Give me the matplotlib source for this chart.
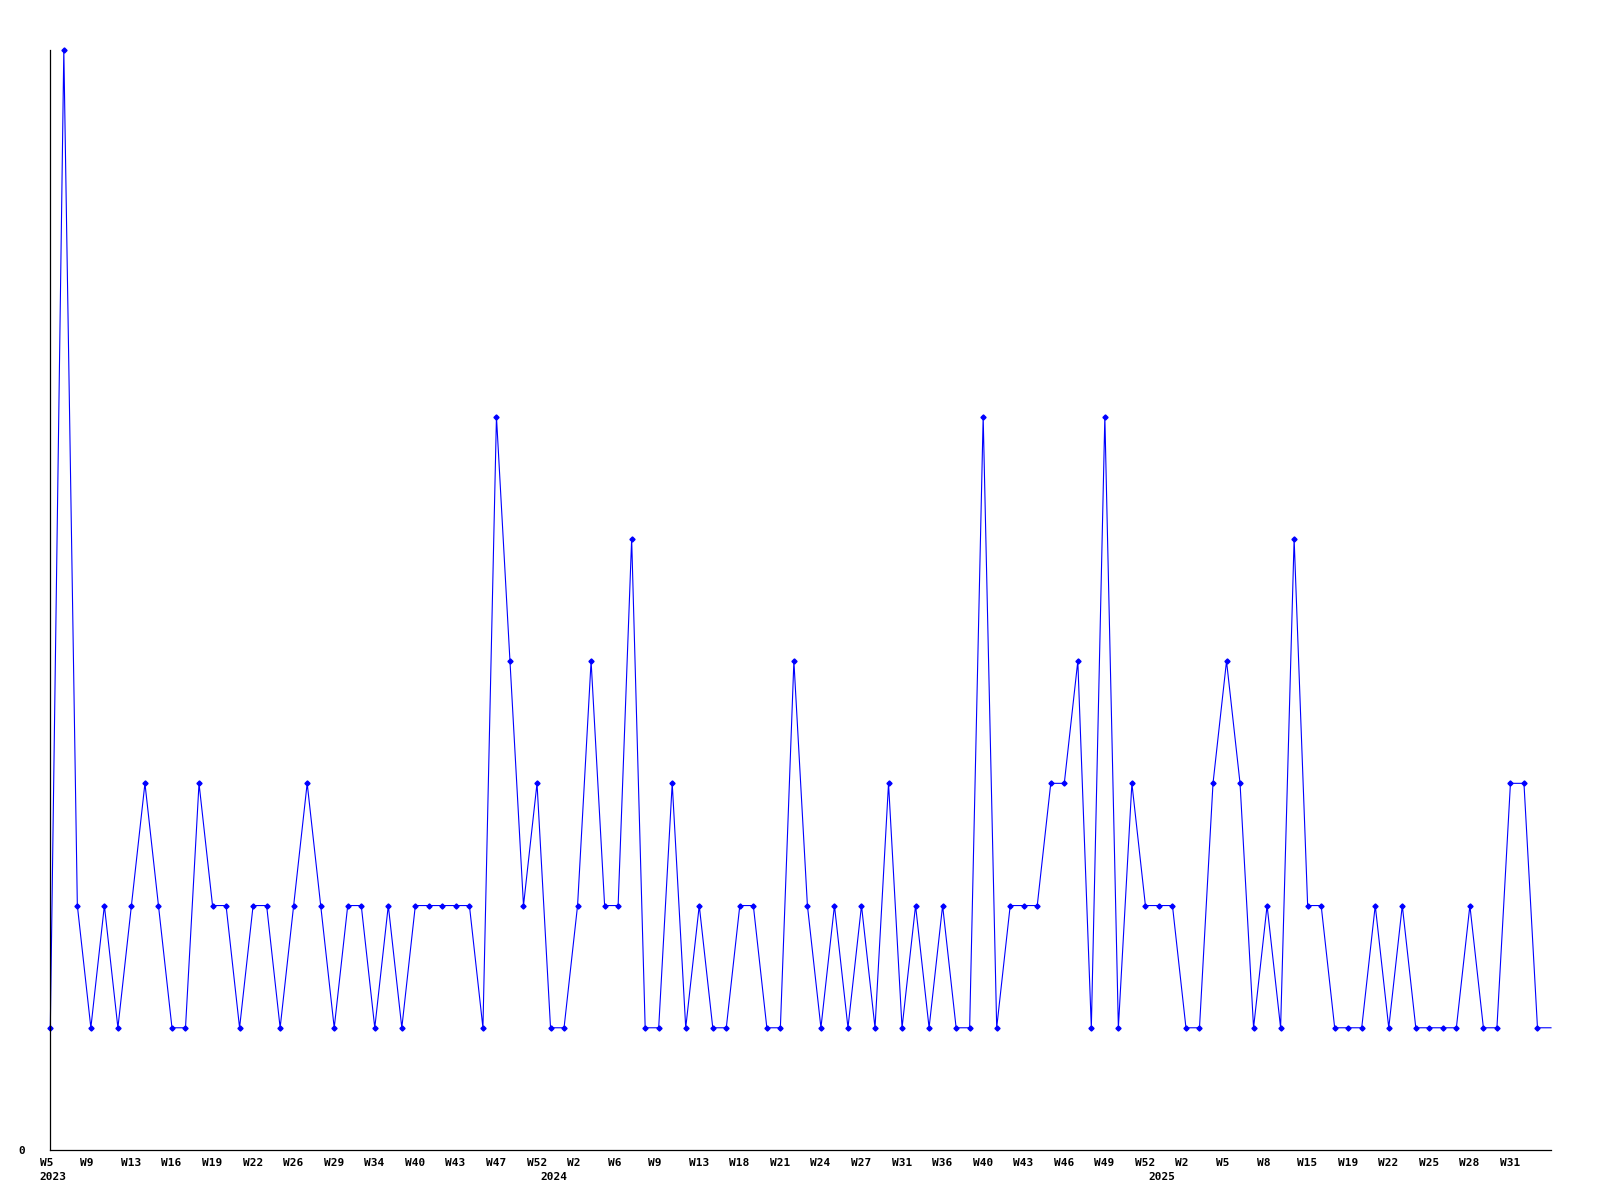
import numpy as np
import matplotlib
matplotlib.use('Agg')
import matplotlib.pyplot as plt
from matplotlib.transforms import ScaledTranslation

# weekly counts, one per point (2023 W5 ... 2025 W33)
counts = [1, 9, 2, 1, 2, 1, 2, 3, 2, 1, 1, 3, 2, 2, 1, 2, 2, 1, 2, 3,
          2, 1, 2, 2, 1, 2, 1, 2, 2, 2, 2, 2, 1, 6, 4, 2, 3, 1, 1, 2,
          4, 2, 2, 5, 1, 1, 3, 1, 2, 1, 1, 2, 2, 1, 1, 4, 2, 1, 2, 1,
          2, 1, 3, 1, 2, 1, 2, 1, 1, 6, 1, 2, 2, 2, 3, 3, 4, 1, 6, 1,
          3, 2, 2, 2, 1, 1, 3, 4, 3, 1, 2, 1, 5, 2, 2, 1, 1, 1, 2, 1,
          2, 1, 1, 1, 1, 2, 1, 1, 3, 3, 1, 1]

# labels shown under every third point
week_labels = ['W5', 'W9', 'W13', 'W16', 'W19', 'W22', 'W26', 'W29', 'W34',
               'W40', 'W43', 'W47', 'W52',
               'W2', 'W6', 'W9', 'W13', 'W18', 'W21', 'W24', 'W27', 'W31',
               'W36', 'W40', 'W43', 'W46', 'W49', 'W52',
               'W2', 'W5', 'W8', 'W15', 'W19', 'W22', 'W25', 'W28', 'W31']
years = ['2023', '2024', '2025']
year_first_point = [0, 37, 82]

x = np.arange(len(counts))

fig = plt.figure(figsize=(16, 12), dpi=100)
ax = fig.add_axes([50.3/1600, 50/1200, (1551-50.3)/1600, 1100/1200])

ax.plot(x, counts, color='#0000ff', linewidth=0.8, marker='D', markersize=2.6,
        markevery=list(range(len(counts)-1)), clip_on=False)

ax.set_xlim(0, len(counts)-1)
ax.set_ylim(0, max(counts))

for s in ['top', 'right']:
    ax.spines[s].set_visible(False)
for s in ['left', 'bottom']:
    ax.spines[s].set_linewidth(0.9)
    ax.spines[s].set_color('black')

font = dict(family='DejaVu Sans Mono', weight='bold', size=8)

ax.set_yticks([0])
ax.set_yticklabels(['0'], **font)
ax.tick_params(axis='y', length=0, pad=18)

ax.set_xticks(x[:len(week_labels)*3:3])
ax.set_xticklabels(week_labels, ha='left', **font)
ax.tick_params(axis='x', length=0, pad=5.5)
shift = ScaledTranslation(-10.5/100, 0, fig.dpi_scale_trans)
for lab in ax.get_xticklabels():
    lab.set_transform(lab.get_transform() + shift)

for yr, i in zip(years, year_first_point):
    ax.annotate(yr, xy=(i, 0), xycoords=('data', 'axes fraction'),
                xytext=(-7.6, -16), textcoords='offset points',
                ha='left', va='top', **font)

fig.savefig('out.png', dpi=100)
